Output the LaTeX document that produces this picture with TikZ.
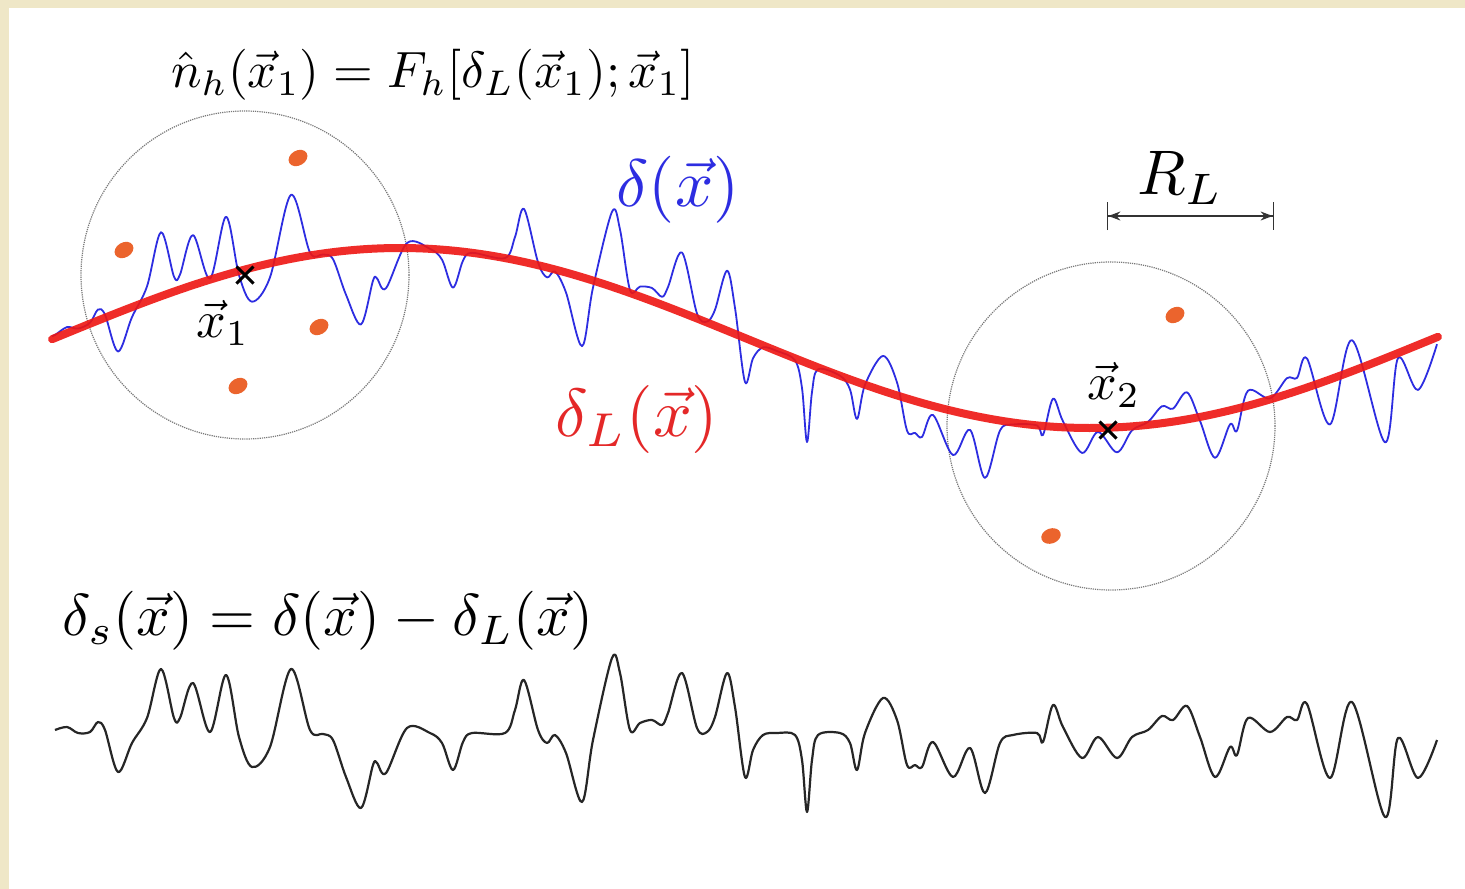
\documentclass[tikz,border=0pt]{standalone}
\usetikzlibrary{arrows.meta,shapes.misc,shapes.geometric}
\definecolor{beige}{RGB}{239,231,199}
\definecolor{curveblue}{RGB}{45,45,225}
\definecolor{curvered}{RGB}{238,22,18}
\definecolor{halo}{RGB}{235,100,45}
\definecolor{lblred}{RGB}{228,40,40}
\definecolor{ringgray}{RGB}{120,120,120}
\tikzset{
  ring/.style={circle, draw=ringgray, densely dotted, line width=1.2pt, minimum size=328pt, inner sep=0pt},
  halodot/.style={ellipse, fill=halo, minimum width=20pt, minimum height=15pt, inner sep=0pt},
  xmark/.style={cross out, draw=black, line width=3pt, minimum size=14pt, inner sep=0pt},
  bluecurve/.style={draw=curveblue, line width=1.8pt, line join=round},
  blackcurve/.style={draw=black!85, line width=2.2pt, line join=round},
  redcurve/.style={draw=curvered, line width=8pt, line cap=round, opacity=0.9},
  dimline/.style={draw=black!80, line width=1.4pt, {Bar[width=28pt]Stealth[length=12pt,width=9pt]}-{Stealth[length=12pt,width=9pt]Bar[width=28pt]}},
}
\begin{document}
\begin{tikzpicture}[x=1pt,y=-1pt]
\useasboundingbox (0,0) rectangle (1465,889);
\fill[beige] (0,0) rectangle (1465,889);
\fill[white] (9,8) rectangle (1465,889);

% circles
\node[ring] (c1) at (245,275) {};
\node[ring] (c2) at (1111,426) {};

% curves data: small-scale field delta_s (pixel coords)
\def\dspts{55/730,67/727,78/733,90/732,98/722,105/730,118/772,132/743,147/718,161/669,174/718,180/718,193/683,210/732,226/675,239/737,252/767,270/747,291/669,310/730,323/734,333/740,346/777,361/808,373/765,377/763,386/773,407/728,430/733,442/743,453/770,463/742,472/733,505/733,515/710,524/680,538/730,547/743,555/735,566/753,582/802,593/740,612/658,620/673,630/730,640/723,652/720,662/725,668/713,682/673,697/728,707/732,715/717,727/673,735/707,745/777,753/750,763/735,777/733,795/735,802/760,807/812,812/760,818/735,840/733,850/743,857/770,865/733,883/698,897/720,907/765,915/765,922/767,933/742,953/777,970/748,985/793,1000/743,1013/735,1037/733,1043/742,1053/705,1063/727,1082/758,1098/737,1117/758,1132/737,1148/730,1162/716,1173/720,1187/706,1200/737,1215/777,1230/747,1237/755,1248/718,1270/732,1287/717,1297/720,1307/704,1330/778,1352/702,1385/817,1398/738,1418/778,1437/740}
\gdef\blacklist{}\gdef\bluelist{}
\foreach \px/\py in \dspts {
  \pgfmathsetmacro\pyb{338-90*cos((\px-400)*0.26087)+\py-733}
  \xdef\blacklist{\blacklist(\px,\py)}
  \xdef\bluelist{\bluelist(\px,\pyb)}
}
\edef\drawblue{\noexpand\draw[bluecurve] plot[smooth,tension=0.55] coordinates {(52,336)\bluelist};}
\drawblue
\draw[redcurve] plot[domain=52:1438,samples=160,smooth] (\x,{338-90*cos((\x-400)*0.26087)});
\edef\drawblack{\noexpand\draw[blackcurve] plot[smooth,tension=0.55] coordinates {\blacklist};}
\drawblack

% halo dots
\node[halodot, rotate=30] (h1) at (298,158) {};
\node[halodot, rotate=30] (h2) at (124,250) {};
\node[halodot, rotate=30] (h3) at (319,327) {};
\node[halodot, rotate=30] (h4) at (238,386) {};
\node[halodot, rotate=30] (h5) at (1175,315) {};
\node[halodot, rotate=20] (h6) at (1051,536) {};

% markers
\node[xmark] (x1m) at (245,275) {};
\node[xmark] (x2m) at (1108,430) {};

% labels
\node[scale=5.2] (x1l) at (223,323) {$\vec{x}_1$};
\node[scale=5.2] (x2l) at (1114,385) {$\vec{x}_2$};
\node[scale=5.1] (nh) at (433,75) {$\hat{n}_h(\vec{x}_1) = F_h[\delta_L(\vec{x}_1);\vec{x}_1]$};
\node[scale=6.7, text=curveblue] (dl) at (678,190) {$\delta(\vec{x})$};
\node[scale=6.8, text=lblred] (dll) at (637,419) {$\delta_L(\vec{x})$};
\node[scale=6.3] (rl) at (1180,178) {$R_L$};
\node[scale=5.9] (ds) at (328,621) {$\delta_s(\vec{x}) = \delta(\vec{x}) - \delta_L(\vec{x})$};

% R_L dimension
\coordinate (rla) at (1107,216);
\coordinate (rlb) at (1274,216);
\draw[dimline] (rla) -- (rlb);
\end{tikzpicture}
\end{document}
